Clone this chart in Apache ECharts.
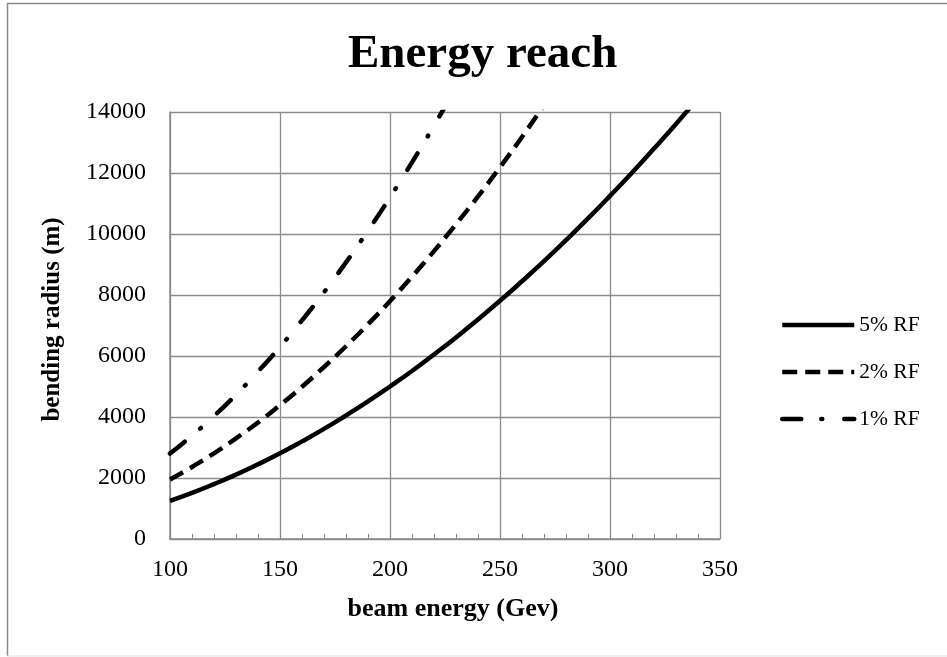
<!DOCTYPE html>
<html>
<head>
<meta charset="utf-8">
<script src="https://cdn.jsdelivr.net/npm/echarts@6/dist/echarts.min.js"></script>
<style>html,body{margin:0;padding:0;background:#fff;}#c{width:947px;height:657px;}</style>
</head>
<body>
<div id="c"></div>
<script>
// Beam energy (GeV)
var energy5 = [100,110,120,130,140,150,160,170,180,190,200,210,220,230,240,250,260,270,280,290,300,310,320,330,340];
var rf5 = [1250,1510,1800,2110,2450,2810,3200,3610,4050,4510,5000,5510,6050,6610,7200,7810,8450,9110,9800,10510,11250,12010,12800,13610,14450];
var energy2 = [100,110,120,130,140,150,160,170,180,190,200,210,220,230,240,250,260,270];
var rf2 = [1950,2360,2810,3300,3820,4390,4990,5640,6320,7040,7800,8600,9440,10320,11230,12190,13180,14220];
var energy1 = [100,110,120,130,140,150,160,170,180,190,200,210,220,230];
var rf1 = [2800,3390,4030,4730,5490,6300,7170,8090,9070,10110,11200,12350,13550,14810];
var seriesNames = ['5% RF','2% RF','1% RF'];
var xTicks = {min:100, max:350, interval:50};
var yTicks = {min:0, max:14000, interval:2000};

function pairs(xs, ys){ return xs.map(function(x,i){ return [x, ys[i]]; }); }

var font = 'Liberation Serif, Times New Roman, serif';
var chart = echarts.init(document.getElementById('c'), null, {renderer:'canvas'});
chart.setOption({
  animation:false,
  backgroundColor:'#fff',
  title:{text:'Energy reach', left:343, top:26,
    textStyle:{fontFamily:font, fontSize:47, fontWeight:'bold', color:'#000'}},
  grid:{left:170, right:227, top:112, bottom:118},
  legend:{orient:'vertical', left:780, top:314, padding:0, itemWidth:72, itemHeight:20, itemGap:25,
    itemStyle:{opacity:0},
    lineStyle:{width:4.5},
    textStyle:{fontFamily:font, fontSize:21.5, color:'#000', lineHeight:20},
    data:seriesNames},
  xAxis:{type:'value', min:xTicks.min, max:xTicks.max, interval:xTicks.interval,
    name:'beam energy (Gev)', nameLocation:'middle', nameGap:57,
    nameTextStyle:{fontFamily:font, fontSize:26, fontWeight:'bold', color:'#000', padding:[0,0,0,16]},
    axisLine:{show:true, lineStyle:{color:'#888', width:1.5}},
    axisTick:{show:true, inside:true, length:5, lineStyle:{color:'#888'}},
    minorTick:{show:true, splitNumber:5, length:5, lineStyle:{color:'#888', width:1}},
    splitLine:{show:true, lineStyle:{color:'#8c8c8c', width:1.3}},
    axisLabel:{fontFamily:font, fontSize:24, color:'#000', margin:19}},
  yAxis:{type:'value', min:yTicks.min, max:yTicks.max, interval:yTicks.interval,
    name:'bending radius (m)', nameLocation:'middle', nameGap:105, nameRotate:90,
    nameTextStyle:{fontFamily:font, fontSize:25, fontWeight:'bold', color:'#000', padding:[0,0,0,12]},
    axisLine:{show:true, lineStyle:{color:'#888', width:1.5}},
    axisTick:{show:false},
    splitLine:{show:true, lineStyle:{color:'#8c8c8c', width:1.3}},
    axisLabel:{fontFamily:font, fontSize:24, color:'#000', margin:24,
      formatter:function(v){ return String(v); }}},
  series:[
    {name:seriesNames[0], type:'line', data:pairs(energy5, rf5), smooth:0.5, symbol:'none', clip:true,
      lineStyle:{color:'#000', width:4.5, type:'solid'}, itemStyle:{color:'#000'}},
    {name:seriesNames[1], type:'line', data:pairs(energy2, rf2), smooth:0.5, symbol:'none', clip:true,
      lineStyle:{color:'#000', width:4.5, type:[15,8], cap:'butt'}, itemStyle:{color:'#000'}},
    {name:seriesNames[2], type:'line', data:pairs(energy1, rf1), smooth:0.5, symbol:'none', clip:true,
      lineStyle:{color:'#000', width:4.5, type:[19,20,1,22], cap:'round'}, itemStyle:{color:'#000'}}
  ],
  graphic:[
    {type:'line', shape:{x1:7, y1:3.5, x2:947, y2:3.5}, style:{stroke:'#8a8a8a', lineWidth:1.5}},
    {type:'line', shape:{x1:7.5, y1:3, x2:7.5, y2:656}, style:{stroke:'#8a8a8a', lineWidth:1.5}},
    {type:'line', shape:{x1:7, y1:656, x2:947, y2:656}, style:{stroke:'#e2e2e2', lineWidth:1}}
  ]
});
</script>
</body>
</html>
